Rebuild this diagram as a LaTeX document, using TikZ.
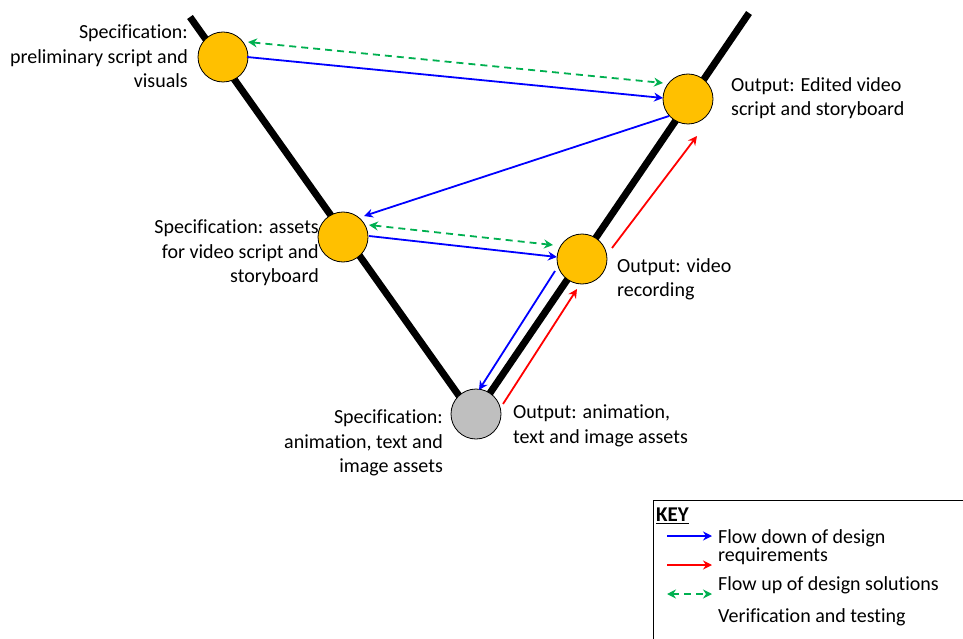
\documentclass[tikz,border=0pt]{standalone}
\usepackage{fontspec}
\setmainfont{Carlito}[Ligatures=NoCommon]
\usetikzlibrary{arrows.meta}
\definecolor{orangefill}{RGB}{255,192,0}
\definecolor{greyfill}{RGB}{191,191,191}
\definecolor{myblue}{RGB}{0,0,255}
\definecolor{myred}{RGB}{255,0,0}
\definecolor{mygreen}{RGB}{0,176,80}
\tikzset{
  vline/.style={line width=7pt, black},
  stage/.style={circle, draw=black, line width=0.8pt, minimum size=50pt, inner sep=0pt, fill=orangefill},
  bottomstage/.style={stage, fill=greyfill},
  tip/.style={-{Stealth[length=9pt,width=9pt,inset=3pt]}},
  downflow/.style={tip, myblue, line width=1.8pt},
  upflow/.style={tip, myred, line width=1.8pt},
  verif/.style={{Stealth[length=9pt,width=9pt,inset=3pt]}-{Stealth[length=9pt,width=9pt,inset=3pt]}, mygreen, line width=1.8pt, dash pattern=on 7pt off 5pt},
  lbl/.style={inner sep=0pt, font=\fontsize{20}{24.4}\selectfont},
  keylbl/.style={inner sep=0pt, font=\fontsize{20}{18.5}\selectfont, align=left, anchor=west},
}
\begin{document}
\begin{tikzpicture}[x=1pt,y=-1pt]
\useasboundingbox (0,0) rectangle (963,639);
% V lines
\coordinate (ltop) at (190,17);
\coordinate (lbot) at (462,400);
\coordinate (rtop) at (749,13);
\coordinate (rbot) at (488,396);
\draw[vline] (ltop) -- (lbot);
\draw[vline] (rtop) -- (rbot);
% stages
\node[stage] (s1) at (223,57) {};
\node[stage] (o1) at (688,99) {};
\node[stage] (s2) at (343,237) {};
\node[stage] (o2) at (582,259) {};
\node[bottomstage] (b) at (476,414) {};
% labels
\node[lbl, align=right, anchor=north east] (ls1) at (188,25) {Specification:\\preliminary script and\\visuals};
\node[lbl, align=left, anchor=north west] (lo1) at (731,77) {Output: Edited video\\script and storyboard};
\node[lbl, align=right, anchor=north east] (ls2) at (319,220) {Specification: assets\\for video script and\\storyboard};
\node[lbl, align=left, anchor=north west] (lo2) at (617,258) {Output: video\\recording};
\node[lbl, align=right, anchor=north east] (lb1) at (443,410) {Specification:\\animation, text and\\image assets};
\node[lbl, align=left, anchor=north west] (lb2) at (513,405) {Output: animation,\\text and image assets};
% arrows
\coordinate (g1a) at (248,42);
\coordinate (g1b) at (663,83);
\draw[verif] (g1a) -- (g1b);
\coordinate (d1a) at (247,57);
\coordinate (d1b) at (663,98);
\draw[downflow] (d1a) -- (d1b);
\coordinate (d2a) at (669,116);
\coordinate (d2b) at (364,216);
\draw[downflow] (d2a) -- (d2b);
\coordinate (g2a) at (369,225);
\coordinate (g2b) at (553,245);
\draw[verif] (g2a) -- (g2b);
\coordinate (d3a) at (369,236);
\coordinate (d3b) at (557,257);
\draw[downflow] (d3a) -- (d3b);
\coordinate (d4a) at (555,271);
\coordinate (d4b) at (479,390);
\draw[downflow] (d4a) -- (d4b);
\coordinate (u1a) at (503,404);
\coordinate (u1b) at (577,289);
\draw[upflow] (u1a) -- (u1b);
\coordinate (u2a) at (612,248);
\coordinate (u2b) at (697,136);
\draw[upflow] (u2a) -- (u2b);
% key
\draw[line width=0.8pt] (653,650) -- (653,500) -- (975,500);
\node[inner sep=0pt, anchor=west, font=\fontsize{21}{21}\selectfont\bfseries] (keyt) at (656,516) {\underline{KEY}};
\coordinate (k1a) at (667,536);
\coordinate (k1b) at (712,536);
\draw[downflow] (k1a) -- (k1b);
\coordinate (k2a) at (667,565);
\coordinate (k2b) at (712,565);
\draw[upflow] (k2a) -- (k2b);
\coordinate (k3a) at (667,594);
\coordinate (k3b) at (712,594);
\draw[verif] (k3a) -- (k3b);
\node[keylbl, anchor=north west] (kt1) at (718,529) {Flow down of design\\requirements};
\node[keylbl] (kt2) at (718,585) {Flow up of design solutions};
\node[keylbl] (kt3) at (718,617) {Verification and testing};
\end{tikzpicture}
\end{document}
